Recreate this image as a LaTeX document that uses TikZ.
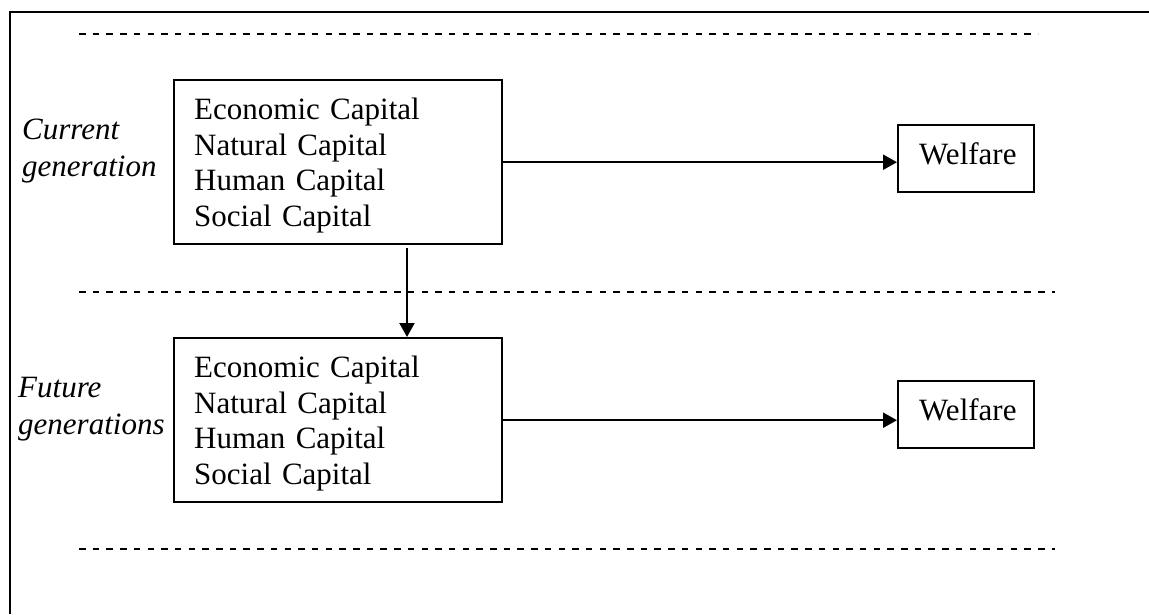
\documentclass[tikz,border=0pt]{standalone}
\usepackage{fontspec}
\setmainfont{Liberation Serif}
\usetikzlibrary{arrows.meta}
\begin{document}
\begin{tikzpicture}[x=1pt,y=1pt,
  txt/.style={font=\fontsize{31}{35.7}\selectfont},
  capbox/.style={txt,draw,line width=2.4pt,align=left,text width=287.7pt,inner xsep=20pt,minimum height=164pt,anchor=north west},
  welbox/.style={txt,draw,line width=2.4pt,align=left,text width=94pt,inner xsep=21pt,minimum height=67pt,anchor=north west},
  lab/.style={font=\fontsize{31}{37}\selectfont\itshape,align=left,inner sep=0pt,anchor=north west},
  arr/.style={line width=2.2pt,-{Triangle[length=14pt,width=15pt]}},
  sep/.style={line width=2.6pt,dash pattern=on 6.5pt off 7.2pt}]
\useasboundingbox (0,0) rectangle (1149,-614);
% frame (only top and left edges visible)
\draw[line width=2.6pt] (1149,-12) -- (10,-12) -- (10,-614);
% dashed separators
\draw[sep] (79,-34) -- (1038,-34);
\draw[sep] (79,-292) -- (1055,-292);
\draw[sep] (79,-549) -- (1055,-549);
% capital boxes
\node[capbox] (c1) at (173,-79) {\rule{0pt}{27.9pt}Economic Capital\\Natural Capital\\Human Capital\\Social Capital};
\node[capbox] (c2) at (173,-337) {\rule{0pt}{27.9pt}Economic Capital\\Natural Capital\\Human Capital\\Social Capital};
% welfare boxes
\node[welbox] (w1) at (897,-124) {Welfare\rule[-9.5pt]{0pt}{0pt}};
\node[welbox] (w2) at (897,-380) {Welfare\rule[-9.5pt]{0pt}{0pt}};
% labels
\node[lab] (l1) at (22,-114) {\rule{0pt}{25pt}Current\\generation};
\node[lab] (l2) at (18,-372) {\rule{0pt}{25pt}Future\\generations};
% connectors
\coordinate (vx) at (407,0);
\draw[arr] (c1.east) -- (c1.east -| w1.west);
\draw[arr] (c2.east) -- (c2.east -| w2.west);
\draw[arr,shorten <=3pt] (c1.south -| vx) -- (c2.north -| vx);
\end{tikzpicture}
\end{document}
